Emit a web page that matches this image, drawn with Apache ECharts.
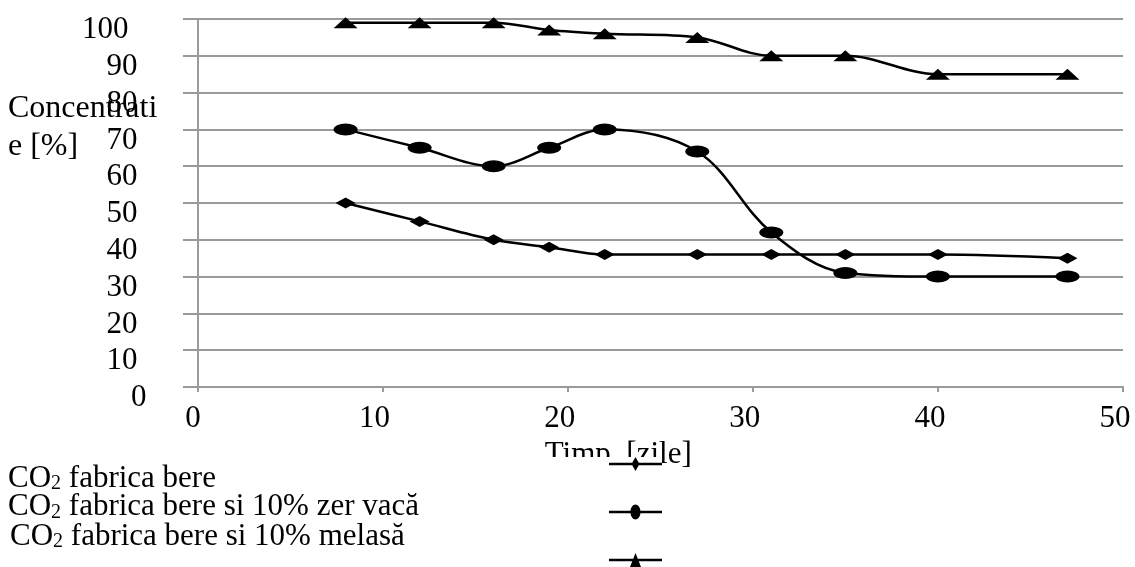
<!DOCTYPE html>
<html>
<head>
<meta charset="utf-8">
<script src="https://cdn.jsdelivr.net/npm/echarts@6/dist/echarts.min.js"></script>
<style>html,body{margin:0;padding:0;background:#fff}#c{width:1135px;height:567px}</style>
</head>
<body>
<div id="c"></div>
<script>
// ---- data ----
var days = [8, 12, 16, 19, 22, 27, 31, 35, 40, 47];
var seriesNames = ['CO2 fabrica bere', 'CO2 fabrica bere si 10% zer vacă', 'CO2 fabrica bere si 10% melasă'];
var beer = [50, 45, 40, 38, 36, 36, 36, 36, 36, 35];
var beerWhey = [70, 65, 60, 65, 70, 64, 42, 31, 30, 30];
var beerMolasses = [99, 99, 99, 97, 96, 95, 90, 90, 85, 85];
var xTicks = [0, 10, 20, 30, 40, 50];
var yTicks = [0, 10, 20, 30, 40, 50, 60, 70, 80, 90, 100];
var xTitle = 'Timp. [zile]';
var yTitle = 'Concentrati\ne [%]';
var legendTails = [' fabrica bere', ' fabrica bere si 10% zer vacă', ' fabrica bere si 10% melasă'];

var FONT = 'Liberation Serif';
var FS = 31;
var LH = 31;
var GRID_C = '#9a9a9a';

function pairs(xs, ys) { return xs.map(function (x, i) { return [x, ys[i]]; }); }

var legendRich = {
  c: { fontFamily: FONT, fontSize: FS, color: '#000', lineHeight: LH, verticalAlign: 'bottom' },
  s: { fontFamily: FONT, fontSize: 20, color: '#000', lineHeight: 18, verticalAlign: 'bottom' }
};
function legendFmt(name) {
  var i = seriesNames.indexOf(name);
  return '{c|CO}{s|2}{c|' + legendTails[i] + '}';
}

var icons = [
  'path://M0,6.75H53V9.25H0Z M26.5,1L30.5,8L26.5,15L22.5,8Z',
  'path://M0,6.75H53V9.25H0Z M21.5,8C21.5,3.86 23.74,0.5 26.5,0.5C29.26,0.5 31.5,3.86 31.5,8C31.5,12.14 29.26,15.5 26.5,15.5C23.74,15.5 21.5,12.14 21.5,8Z',
  'path://M0,6.75H53V9.25H0Z M26.5,1L32,15L21,15Z'
];
var iconTops = [457, 504.5, 553];
var iconH = [14, 15, 14];
var textTops = [463, 491.5, 521];
var textLefts = [3, 3, 5];

var legends = [];
// icon-only legend entries
seriesNames.forEach(function (n, i) {
  var lg = {
    data: [{ name: n, icon: icons[i] }],
    left: i === 0 ? 8 : 609,
    top: iconTops[i],
    padding: i === 0 ? [0, 0, 0, 601] : 0,
    itemWidth: 53,
    itemHeight: iconH[i],
    selectedMode: false,
    formatter: function () { return ''; },
    itemStyle: { color: '#000' },
    textStyle: { fontSize: 1 },
    z: 4
  };
  if (i === 0) lg.backgroundColor = '#fff';
  legends.push(lg);
});
// text-only legend entries
seriesNames.forEach(function (n, i) {
  legends.push({
    data: [{ name: n, icon: 'rect' }],
    left: textLefts[i],
    top: textTops[i],
    padding: 0,
    itemWidth: 0,
    itemHeight: 0,
    selectedMode: false,
    itemStyle: { opacity: 0 },
    formatter: legendFmt,
    textStyle: { fontFamily: FONT, fontSize: FS, color: '#000', rich: legendRich },
    z: 5
  });
});

var LABEL_SHIFT = 11;

var option = {
  animation: false,
  backgroundColor: '#fff',
  grid: [
    { left: 197.5, right: 12, top: 19, bottom: 180, outerBoundsMode: 'none', containLabel: false },
    { left: 183, right: 12, top: 19, bottom: 180, outerBoundsMode: 'none', containLabel: false },
    // same plot area shifted down: carries the y tick labels, which sit below their gridlines
    { left: 197.5, right: 12, top: 19 + LABEL_SHIFT, bottom: 180 - LABEL_SHIFT, outerBoundsMode: 'none', containLabel: false }
  ],
  legend: legends,
  graphic: [{
    type: 'text', left: 8, top: 90, z: 100,
    style: { text: yTitle, fontFamily: FONT, fontSize: 32, fill: '#000', lineHeight: 38 }
  }],
  xAxis: [{
    type: 'value', gridIndex: 0, min: xTicks[0], max: xTicks[xTicks.length - 1], interval: 10,
    axisLine: { show: true, lineStyle: { color: GRID_C, width: 2 } },
    axisTick: { show: true, length: 5, lineStyle: { color: GRID_C, width: 2 } },
    splitLine: { show: false },
    axisLabel: {
      margin: 16, showMinLabel: true, showMaxLabel: true,
      formatter: function (v) { return v === 0 ? '{z|0}' : '{n|' + v + '}'; },
      rich: {
        n: { fontFamily: FONT, fontSize: FS, color: '#000', lineHeight: LH, padding: [0, 16, 0, 0] },
        z: { fontFamily: FONT, fontSize: FS, color: '#000', lineHeight: LH, padding: [0, 9, 0, 0] }
      }
    },
    name: xTitle, nameLocation: 'middle', nameGap: 48,
    nameTextStyle: { fontFamily: FONT, fontSize: FS, color: '#000', lineHeight: LH, padding: [0, 84, 0, 0] }
  }, {
    type: 'value', gridIndex: 1, min: 0, max: 50, show: false
  }, {
    type: 'value', gridIndex: 2, min: 0, max: 50, show: false
  }],
  yAxis: [{
    type: 'value', gridIndex: 0, min: yTicks[0], max: yTicks[yTicks.length - 1], interval: 10,
    axisLine: { show: true, lineStyle: { color: GRID_C, width: 2 } },
    axisTick: { show: false },
    splitLine: { show: false },
    axisLabel: { show: false }
  }, {
    type: 'value', gridIndex: 1, min: 0, max: 100, interval: 10, z: 0,
    axisLine: { show: false }, axisTick: { show: false }, axisLabel: { show: false },
    splitLine: { show: true, lineStyle: { color: GRID_C, width: 2 } }
  }, {
    type: 'value', gridIndex: 2, min: yTicks[0], max: yTicks[yTicks.length - 1], interval: 10,
    axisLine: { show: false }, axisTick: { show: false }, splitLine: { show: false },
    axisLabel: {
      margin: 51, showMinLabel: true, showMaxLabel: true,
      formatter: function (v) { return v === 100 ? '{p|100}' : (v === 0 ? '{z|0}' : '{n|' + v + '}'); },
      rich: {
        n: { fontFamily: FONT, fontSize: FS, color: '#000', lineHeight: LH, padding: [0, 9, 0, 0] },
        p: { fontFamily: FONT, fontSize: FS, color: '#000', lineHeight: LH, padding: [0, 18, 0, 0] },
        z: { fontFamily: FONT, fontSize: FS, color: '#000', lineHeight: LH, padding: [0, 0, 0, 0] }
      }
    }
  }],
  series: [
    {
      name: seriesNames[0], type: 'line', xAxisIndex: 0, yAxisIndex: 0,
      data: pairs(days, beer), smooth: 0.35,
      symbol: 'diamond', symbolSize: [20, 11],
      lineStyle: { color: '#000', width: 2.5 }, itemStyle: { color: '#000' }
    },
    {
      name: seriesNames[1], type: 'line', xAxisIndex: 0, yAxisIndex: 0,
      data: pairs(days, beerWhey), smooth: 0.35,
      symbol: 'circle', symbolSize: [24, 12],
      lineStyle: { color: '#000', width: 2.5 }, itemStyle: { color: '#000' }
    },
    {
      name: seriesNames[2], type: 'line', xAxisIndex: 0, yAxisIndex: 0,
      data: pairs(days, beerMolasses), smooth: 0.35,
      symbol: 'triangle', symbolSize: [24, 11],
      lineStyle: { color: '#000', width: 2.5 }, itemStyle: { color: '#000' }
    }
  ]
};

var chart = echarts.init(document.getElementById('c'), null, { renderer: 'canvas' });
chart.setOption(option);
</script>
</body>
</html>
